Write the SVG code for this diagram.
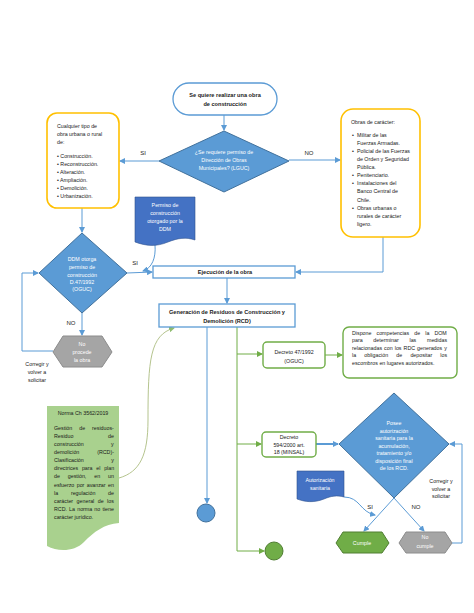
<svg xmlns="http://www.w3.org/2000/svg" width="474" height="613" viewBox="0 0 474 613">
<style>
text{font-family:"Liberation Sans",Arial,sans-serif;}
.t{font-size:5.3px;fill:#1a1a1a;}
.b{font-size:5.6px;font-weight:bold;fill:#1a1a1a;}
.w{font-size:5.3px;fill:#ffffff;}
.lbl{font-size:6px;fill:#1a1a1a;}
.blue{fill:#5b9bd5;stroke:#41719c;stroke-width:1;}
.doc{fill:#4472c4;stroke:#2f528f;stroke-width:0.6;}
.gold{fill:#ffffff;stroke:#ffc000;stroke-width:1.6;}
.grn{fill:#70ad47;stroke:#507e32;stroke-width:1;}
.gray{fill:#a5a5a5;stroke:#8c8c8c;stroke-width:1;}
.gbox{fill:#ffffff;stroke:#70ad47;stroke-width:1.4;}
.bbox{fill:#ffffff;stroke:#5b9bd5;stroke-width:1.3;}
.cb{fill:none;stroke:#5b9bd5;stroke-width:1;}
.cg{fill:none;stroke:#70ad47;stroke-width:1;}
.ct{fill:none;stroke:#b5c48e;stroke-width:1;}
</style>
<defs>
<marker id="ab" markerWidth="6" markerHeight="6" refX="5" refY="3" orient="auto" markerUnits="userSpaceOnUse"><path d="M0,0 L6,3 L0,6 Z" fill="#5b9bd5"/></marker>
<marker id="ag" markerWidth="6" markerHeight="6" refX="5" refY="3" orient="auto" markerUnits="userSpaceOnUse"><path d="M0,0 L6,3 L0,6 Z" fill="#70ad47"/></marker>
<marker id="at" markerWidth="6" markerHeight="6" refX="5" refY="3" orient="auto" markerUnits="userSpaceOnUse"><path d="M0,0 L6,3 L0,6 Z" fill="#8fbc6f"/></marker>
</defs>
<rect width="474" height="613" fill="#ffffff"/>

<g id="connectors">
<line class="cb" x1="224" y1="115" x2="224" y2="130" marker-end="url(#ab)"/>
<line class="cb" x1="159" y1="161" x2="120" y2="161" marker-end="url(#ab)"/>
<line class="cb" x1="289" y1="160" x2="340" y2="160" marker-end="url(#ab)"/>
<line class="cb" x1="82" y1="208" x2="82" y2="232" marker-end="url(#ab)"/>
<line class="cb" x1="127" y1="273" x2="152" y2="272" marker-end="url(#ab)"/>
<path class="cb" d="M155,245 C156,258 152,268 143,271" marker-end="url(#ab)"/>
<line class="cb" x1="82" y1="313" x2="82" y2="335" marker-end="url(#ab)"/>
<polyline class="cb" points="53,351 22,351 22,273 38,273" marker-end="url(#ab)"/>
<polyline class="cb" points="383,237 383,272 296,272" marker-end="url(#ab)"/>
<line class="cb" x1="227" y1="278" x2="227" y2="303" marker-end="url(#ab)"/>
<line class="cb" x1="207" y1="327" x2="207" y2="503" marker-end="url(#ab)"/>
<polyline class="cg" points="237,327 237,551 264,551" marker-end="url(#ag)"/>
<line class="cg" x1="237" y1="354" x2="262" y2="354" marker-end="url(#ag)"/>
<line class="cg" x1="325" y1="355" x2="342" y2="355" marker-end="url(#ag)"/>
<line class="cg" x1="237" y1="444" x2="261" y2="444" marker-end="url(#ag)"/>
<line x1="316" y1="444" x2="338" y2="444" stroke="#5b9bd5" stroke-width="2" marker-end="url(#ab)"/>
<path class="ct" d="M119,478 C140,472 148,455 148,420 C148,360 150,335 174,328" marker-end="url(#at)"/>
<path class="cb" d="M344,497 C360,497 360,512 375,515" marker-end="url(#ab)"/>
<line class="cb" x1="394" y1="498" x2="364" y2="531" marker-end="url(#ab)"/>
<line class="cb" x1="394" y1="498" x2="424" y2="531" marker-end="url(#ab)"/>
<polyline class="cb" points="452,543 462,543 462,444 450,444" marker-end="url(#ab)"/>
</g>

<g id="labels">
<text class="lbl" x="143" y="155" text-anchor="middle">SI</text>
<text class="lbl" x="309" y="155" text-anchor="middle">NO</text>
<text class="lbl" x="135" y="265" text-anchor="middle">SI</text>
<text class="lbl" x="71" y="325" text-anchor="middle">NO</text>
<text class="t" x="37" y="366" text-anchor="middle">Corregir y</text>
<text class="t" x="37" y="374" text-anchor="middle">volver a</text>
<text class="t" x="37" y="382" text-anchor="middle">solicitar</text>
<text class="lbl" x="370" y="509" text-anchor="middle">SI</text>
<text class="lbl" x="416" y="509" text-anchor="middle">NO</text>
<text class="t" x="441" y="483" text-anchor="middle">Corregir y</text>
<text class="t" x="441" y="491" text-anchor="middle">volver a</text>
<text class="t" x="441" y="498" text-anchor="middle">solicitar</text>
</g>

<g id="start">
<rect class="bbox" x="173" y="83" width="104" height="32" rx="16"/>
<text class="b" x="225" y="97" text-anchor="middle">Se quiere realizar una obra</text>
<text class="b" x="225" y="106" text-anchor="middle">de construcción</text>
</g>

<g id="q-permiso">
<polygon class="blue" points="224,131 289,161 224,192 159,161"/>
<text class="w" x="224" y="154" text-anchor="middle">¿Se requiere permiso de</text>
<text class="w" x="224" y="162" text-anchor="middle">Dirección de Obras</text>
<text class="w" x="224" y="170" text-anchor="middle">Municipales? (LGUC)</text>
</g>

<g id="obras-si">
<rect class="gold" x="47" y="113" width="72" height="95" rx="10"/>
<text class="t" x="57" y="128">Cualquier tipo de</text>
<text class="t" x="57" y="136">obra urbana o rural</text>
<text class="t" x="57" y="144">de:</text>
<text class="t" x="57" y="158">•  Construcción.</text>
<text class="t" x="57" y="166">•  Reconstrucción.</text>
<text class="t" x="57" y="174">•  Alteración.</text>
<text class="t" x="57" y="182">•  Ampliación.</text>
<text class="t" x="57" y="190">•  Demolición.</text>
<text class="t" x="57" y="198">•  Urbanización.</text>
</g>

<g id="obras-no">
<rect class="gold" x="341" y="109" width="79" height="128" rx="12"/>
<text class="t" x="351" y="124">Obras de carácter:</text>
<text class="t" x="352" y="137">•</text><text class="t" x="357" y="137">Militar de las</text>
<text class="t" x="357" y="145">Fuerzas Armadas.</text>
<text class="t" x="352" y="153">•</text><text class="t" x="357" y="153">Policial de las Fuerzas</text>
<text class="t" x="357" y="161">de Orden y Seguridad</text>
<text class="t" x="357" y="169">Pública.</text>
<text class="t" x="352" y="177">•</text><text class="t" x="357" y="177">Penitenciario.</text>
<text class="t" x="352" y="185">•</text><text class="t" x="357" y="185">Instalaciones del</text>
<text class="t" x="357" y="193">Banco Central de</text>
<text class="t" x="357" y="202">Chile.</text>
<text class="t" x="352" y="210">•</text><text class="t" x="357" y="210">Obras urbanas o</text>
<text class="t" x="357" y="218">rurales de carácter</text>
<text class="t" x="357" y="226">ligero.</text>
</g>

<g id="doc-permiso">
<path class="doc" d="M135,197 H195 V240 C186,237 178,238 168,242 C156,247 146,246 135,242 Z"/>
<text class="w" x="165" y="207" text-anchor="middle">Permiso de</text>
<text class="w" x="165" y="215" text-anchor="middle">construcción</text>
<text class="w" x="165" y="223" text-anchor="middle">otorgado por la</text>
<text class="w" x="165" y="231" text-anchor="middle">DDM</text>
</g>

<g id="q-ddm">
<polygon class="blue" points="82,233 127,273 82,313 39,273"/>
<text class="w" x="82" y="261" text-anchor="middle">DDM otorga</text>
<text class="w" x="82" y="269" text-anchor="middle">permiso de</text>
<text class="w" x="82" y="277" text-anchor="middle">construcción</text>
<text class="w" x="82" y="284" text-anchor="middle">D.47/1992</text>
<text class="w" x="82" y="291" text-anchor="middle">(OGUC)</text>
</g>

<g id="no-procede">
<polygon class="gray" points="53,352 63,336 102,336 112,352 102,367 63,367"/>
<text class="w" x="82" y="346" text-anchor="middle">No</text>
<text class="w" x="82" y="354" text-anchor="middle">procede</text>
<text class="w" x="82" y="362" text-anchor="middle">la obra</text>
</g>

<g id="ejecucion">
<rect class="bbox" x="153" y="266" width="142" height="12"/>
<text class="b" x="225" y="274" text-anchor="middle">Ejecución de la obra</text>
</g>

<g id="generacion">
<rect class="bbox" x="159" y="304" width="136" height="23"/>
<text class="b" x="227" y="314" text-anchor="middle">Generación de Residuos de Construcción y</text>
<text class="b" x="227" y="323" text-anchor="middle">Demolición (RCD)</text>
</g>

<g id="decreto47">
<rect class="gbox" x="263" y="342" width="62" height="26" rx="4"/>
<text class="t" x="294" y="354" text-anchor="middle">Decreto 47/1992</text>
<text class="t" x="294" y="363" text-anchor="middle">(OGUC)</text>
</g>

<g id="dispone">
<rect class="gbox" x="343" y="327" width="114" height="51" rx="6"/>
<text class="t" x="352" y="335" word-spacing="3.6">Dispone competencias de la DOM</text>
<text class="t" x="352" y="342" word-spacing="9.3">para determinar las medidas</text>
<text class="t" x="352" y="350" word-spacing="0.6">relacionadas con los RDC generados y</text>
<text class="t" x="352" y="357" word-spacing="6.7">la obligación de depositar los</text>
<text class="t" x="352" y="365">escombros en lugares autorizados.</text>
</g>

<g id="decreto594">
<rect class="gbox" x="262" y="432" width="54" height="25" rx="4"/>
<text class="t" x="289" y="439" text-anchor="middle">Decreto</text>
<text class="t" x="289" y="447" text-anchor="middle">594/2000 art.</text>
<text class="t" x="289" y="454" text-anchor="middle">18 (MINSAL)</text>
</g>

<g id="q-autorizacion">
<polygon class="blue" points="394,393 449,444 394,498 339,444"/>
<text class="w" x="394" y="425" text-anchor="middle">Posee</text>
<text class="w" x="394" y="433" text-anchor="middle">autorización</text>
<text class="w" x="394" y="440" text-anchor="middle">sanitaria para la</text>
<text class="w" x="394" y="448" text-anchor="middle">acumulación,</text>
<text class="w" x="394" y="455" text-anchor="middle">tratamiento y/o</text>
<text class="w" x="394" y="463" text-anchor="middle">disposición final</text>
<text class="w" x="394" y="470" text-anchor="middle">de los RCD.</text>
</g>

<g id="doc-autorizacion">
<path class="doc" d="M297,471 H344 V497 C337,495 331,496 324,499 C314,503 305,502 297,499 Z"/>
<text class="w" x="320" y="482" text-anchor="middle">Autorización</text>
<text class="w" x="320" y="490" text-anchor="middle">sanitaria</text>
</g>

<g id="cumple">
<polygon class="grn" points="336,543 343,532 382,532 389,543 382,553 343,553"/>
<text class="w" x="362" y="545" text-anchor="middle">Cumple</text>
</g>

<g id="no-cumple">
<polygon class="gray" points="399,543 406,532 445,532 452,543 445,553 406,553"/>
<text class="w" x="425" y="539" text-anchor="middle">No</text>
<text class="w" x="425" y="548" text-anchor="middle">cumple</text>
</g>

<g id="end-blue">
<circle class="blue" cx="206" cy="513" r="9"/>
</g>

<g id="end-green">
<circle class="grn" cx="274" cy="551" r="9"/>
</g>

<g id="norma">
<path d="M47,406 H119 V523 C104,524 94,532 84,542 C74,552 58,552 47,546 Z" fill="#a9d18e"/>
<text class="t" x="83" y="415" text-anchor="middle">Norma Ch 3562/2019</text>
<text class="t" x="54" y="430" word-spacing="5.5">Gestión de residuos-</text>
<text class="t" x="54" y="438" word-spacing="33.2">Residuo de</text>
<text class="t" x="54" y="446" word-spacing="25.9">construcción y</text>
<text class="t" x="54" y="454" word-spacing="16.4">demolición (RCD)-</text>
<text class="t" x="54" y="462" word-spacing="26.1">Clasificación y</text>
<text class="t" x="54" y="470" word-spacing="2.3">directrices para el plan</text>
<text class="t" x="54" y="478" word-spacing="6.4">de gestión, en un</text>
<text class="t" x="54" y="487" word-spacing="0.9">esfuerzo por avanzar en</text>
<text class="t" x="54" y="495" word-spacing="11.3">la regulación de</text>
<text class="t" x="54" y="503" word-spacing="2.0">carácter general de los</text>
<text class="t" x="54" y="511" word-spacing="0.7">RCD. La norma no tiene</text>
<text class="t" x="54" y="519">carácter jurídico.</text>
</g>
</svg>
